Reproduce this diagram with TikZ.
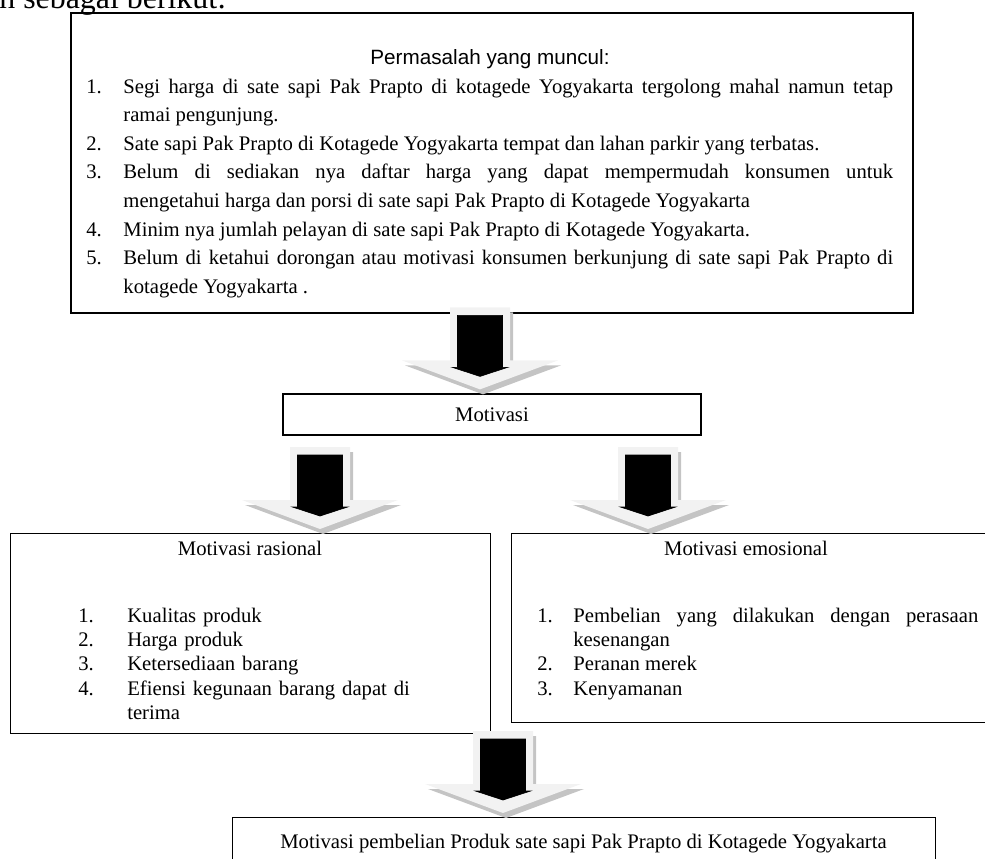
\documentclass[tikz,border=0pt]{standalone}
\usepackage{fontspec}
\setmainfont{Liberation Serif}
\newfontfamily\headfont{Liberation Sans}
\definecolor{arrowface}{HTML}{F2F2F2}
\definecolor{arrowside}{HTML}{C4C4C4}
\hyphenpenalty=10000
\exhyphenpenalty=10000
\newcommand{\listitem}[3]{\hangindent=#1\hangafter=1\noindent\makebox[#1][l]{#2}#3\par}

\tikzset{
  box/.style={draw, line width=0.7pt, inner sep=0pt},
  boxtext/.style={inner sep=0pt},
  bigarrow/.pic={
    \fill [arrowside, shift={(3,5)}] (-30,-86) -- (30,-86) -- (30,-33) -- (78,-33) -- (0,-4) -- (-78,-33) -- (-30,-33) -- cycle;
    \fill [arrowface] (-30,-86) -- (30,-86) -- (30,-33) -- (78,-33) -- (0,-4) -- (-78,-33) -- (-30,-33) -- cycle;
    \filldraw [black, line width=0.4pt] (-22.5,-78) -- (22.5,-78) -- (22.5,-26) -- (27.5,-26) -- (0,-17) -- (-27.5,-26) -- (-22.5,-26) -- cycle;
  }
}

\begin{document}
\begin{tikzpicture}[x=0.58pt, y=-0.58pt]
\useasboundingbox (0,0) rectangle (985,859);

\node [boxtext, anchor=base west, font=\fontsize{18.5}{20}\selectfont] (lead) at (-1,8) {n sebagai berikut:};

\node [box, line width=1.2pt, anchor=north west, minimum width=488.4pt, minimum height=174pt] (prob) at (70,12) {};
\node [box, anchor=north west, minimum width=278.4pt, minimum height=116pt] (ras) at (10,533) {};
\node [box, anchor=north west, minimum width=276.6pt, minimum height=109.6pt] (emo) at (511,533) {};
\node [box, anchor=north west, minimum width=407.7pt, minimum height=46.4pt] (hasil) at (232,817) {};
\node [box, minimum width=242.4pt, minimum height=23.8pt, font=\fontsize{12}{14}\selectfont] (mot) at (492,414.5) {Motivasi};

\node [boxtext, anchor=base, font=\headfont\fontsize{12}{14}\selectfont] (probhead) at (490,64) {Permasalah yang muncul:};
\node [boxtext, anchor=base west, text width=468pt, align=justify, font=\fontsize{12}{16.6}\selectfont] (probtext) at (86,93) {%
\baselineskip=16.6pt\parskip=0pt
\listitem{21.5pt}{1.}{Segi harga di sate sapi Pak Prapto di kotagede Yogyakarta tergolong mahal namun tetap\linebreak ramai pengunjung.}
\listitem{21.5pt}{2.}{Sate sapi Pak Prapto di Kotagede Yogyakarta tempat dan lahan parkir yang terbatas.}
\listitem{21.5pt}{3.}{Belum di sediakan nya daftar harga yang dapat mempermudah konsumen untuk\linebreak mengetahui harga dan porsi di sate sapi Pak Prapto di Kotagede Yogyakarta}
\listitem{21.5pt}{4.}{Minim nya jumlah pelayan di sate sapi Pak Prapto di Kotagede Yogyakarta.}
\listitem{21.5pt}{5.}{Belum di ketahui dorongan atau motivasi konsumen berkunjung di sate sapi Pak Prapto di\linebreak kotagede Yogyakarta .}};

\node [boxtext, anchor=base, font=\fontsize{12}{14}\selectfont] (rashead) at (250,555) {Motivasi rasional};
\node [boxtext, anchor=base west, text width=210pt, align=left, font=\fontsize{12}{14.2}\selectfont] (rastext) at (78,622) {%
\baselineskip=14.2pt\parskip=0pt
\listitem{28.4pt}{1.}{Kualitas produk}
\listitem{28.4pt}{2.}{Harga produk}
\listitem{28.4pt}{3.}{Ketersediaan barang}
\listitem{28.4pt}{4.}{Efiensi kegunaan barang dapat di\linebreak terima}};

\node [boxtext, anchor=base, font=\fontsize{12}{14}\selectfont] (emohead) at (746,555) {Motivasi emosional};
\node [boxtext, anchor=base west, text width=255.8pt, align=justify, font=\fontsize{12}{14.2}\selectfont] (emotext) at (537,622) {%
\baselineskip=14.2pt\parskip=0pt
\listitem{20.9pt}{1.}{Pembelian yang dilakukan dengan perasaan\linebreak kesenangan}
\listitem{20.9pt}{2.}{Peranan merek}
\listitem{20.9pt}{3.}{Kenyamanan}};

\node [boxtext, anchor=base, font=\fontsize{12}{14}\selectfont] (hasiltext) at (583.5,848) {Motivasi pembelian Produk sate sapi Pak Prapto di Kotagede Yogyakarta};

\pic at (mot.north -| 480,0) {bigarrow};
\pic at (ras.north -| 320,0) {bigarrow};
\pic at (emo.north -| 648,0) {bigarrow};
\pic at (hasil.north -| 503,0) {bigarrow};

\end{tikzpicture}
\end{document}
